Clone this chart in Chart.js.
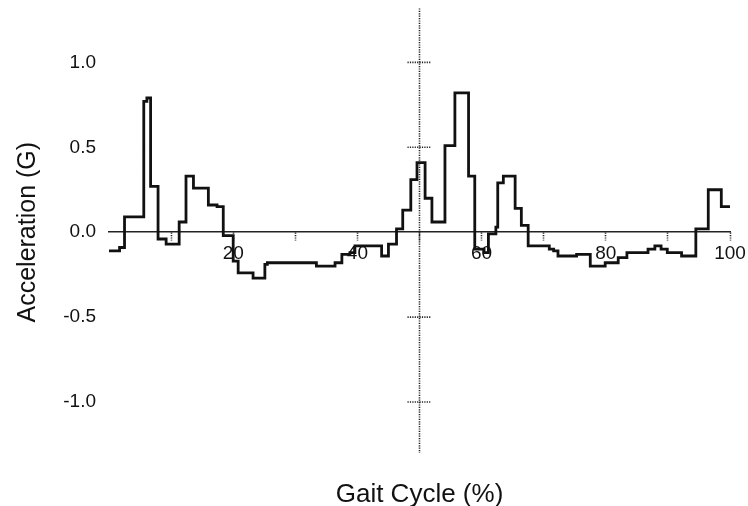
<!DOCTYPE html>
<html>
<head>
<meta charset="utf-8">
<title>Gait Cycle Acceleration</title>
<script src="https://cdn.jsdelivr.net/npm/chart.js@4.4.1/dist/chart.umd.min.js"></script>
<style>
    html, body { margin: 0; padding: 0; background: #fff; }
    #wrap { width: 748px; height: 506px; }
</style>
</head>
<body>
<div id="wrap"><canvas id="gaitChart"></canvas></div>
<script>
// Начало каждой ступеньки (% цикла) и значение ускорения на ней (G)
const gaitPct = [
    0, 1.7, 2.5, 5.6, 6.1, 6.7, 7.9, 9.2, 11.3, 12.4,
    13.6, 16.0, 17.4, 18.4, 20.0, 20.8, 23.2, 25.1, 25.5, 33.4,
    36.4, 37.5, 38.8, 39.6, 43.9, 45.0, 46.3, 47.3, 48.6, 49.6,
    50.9, 52.0, 54.1, 55.7, 57.9, 58.9, 60.4, 61.1, 62.3, 62.6,
    63.5, 65.4, 66.4, 67.5, 70.9, 71.6, 72.3, 75.3, 77.5, 79.9,
    82.0, 83.4, 86.8, 87.9, 88.9, 89.9, 92.2, 94.5, 96.5, 98.6,
    100
];
const accel = [
    -0.11, -0.09, 0.09, 0.77, 0.79, 0.27, -0.04, -0.07, 0.06, 0.33,
    0.26, 0.16, 0.15, -0.02, -0.17, -0.24, -0.27, -0.19, -0.18, -0.20,
    -0.18, -0.13, -0.12, -0.08, -0.14, -0.07, 0.02, 0.13, 0.31, 0.41,
    0.20, 0.06, 0.51, 0.82, 0.33, -0.10, -0.12, -0.01, 0.03, 0.29,
    0.33, 0.14, 0.04, -0.08, -0.10, -0.11, -0.14, -0.13, -0.20, -0.18,
    -0.15, -0.12, -0.10, -0.08, -0.10, -0.12, -0.14, 0.02, 0.25, 0.15,
    0.15
];

// Деления осей
const xTickValues = [10, 20, 30, 40, 50, 60, 70, 80, 90, 100];
const xTickLabels = [20, 40, 60, 80, 100];
const yTickValues = [-1.0, -0.5, 0.0, 0.5, 1.0];

const FONT = '"Liberation Sans", Arial, sans-serif';
const AXIS_COLOR = '#222';

/**
 * Вертикальная ось в точке 50% с поперечными делениями
 */
const centerAxisPlugin = {
    id: 'centerAxis',
    beforeDatasetsDraw: function (chart) {
        const ctx = chart.ctx;
        const xs = chart.scales.x;
        const ys = chart.scales.y;
        const area = chart.chartArea;
        const cx = xs.getPixelForValue(50);

        ctx.save();
        ctx.strokeStyle = AXIS_COLOR;
        ctx.lineWidth = 1.6;
        ctx.setLineDash([1.2, 1.2]);

        ctx.beginPath();
        ctx.moveTo(cx, area.top - 3);
        ctx.lineTo(cx, area.bottom);
        ctx.stroke();

        yTickValues.forEach(function (v) {
            if (v === 0) return;
            const py = ys.getPixelForValue(v);
            ctx.beginPath();
            ctx.moveTo(cx - 12, py);
            ctx.lineTo(cx + 12, py);
            ctx.stroke();
        });
        ctx.restore();
    }
};

const points = gaitPct.map(function (x, i) {
    return { x: x, y: accel[i] };
});

new Chart(document.getElementById('gaitChart'), {
    type: 'line',
    data: {
        datasets: [{
            label: 'Acceleration',
            data: points,
            stepped: true,
            borderColor: '#111',
            borderWidth: 2.8,
            pointRadius: 0,
            fill: false
        }]
    },
    options: {
        responsive: true,
        maintainAspectRatio: false,
        animation: false,
        layout: {
            padding: { top: 11, right: 18, bottom: 0, left: 0 }
        },
        plugins: {
            legend: { display: false },
            tooltip: { enabled: false },
            title: {
                display: true,
                position: 'bottom',
                fullSize: false,
                text: 'Gait Cycle (%)',
                color: '#111',
                font: { family: FONT, size: 26, weight: 'normal', lineHeight: 1.0 },
                padding: { top: 29, bottom: -2 }
            }
        },
        scales: {
            x: {
                type: 'linear',
                position: { y: 0 },
                min: 0,
                max: 100,
                afterBuildTicks: function (scale) {
                    scale.ticks = xTickValues.map(function (v) { return { value: v }; });
                },
                border: {
                    display: true,
                    color: AXIS_COLOR,
                    width: 1.6,
                    dash: [1.2, 1.2]
                },
                grid: {
                    display: true,
                    drawOnChartArea: false,
                    drawTicks: true,
                    tickLength: 8,
                    tickColor: AXIS_COLOR,
                    tickWidth: 1.6,
                    tickBorderDash: [1.2, 1.2]
                },
                ticks: {
                    autoSkip: false,
                    maxRotation: 0,
                    padding: 2,
                    color: '#111',
                    font: { family: FONT, size: 19 },
                    callback: function (value) {
                        return xTickLabels.indexOf(value) >= 0 ? String(value) : '';
                    }
                }
            },
            y: {
                type: 'linear',
                position: 'left',
                min: -1.3,
                max: 1.3,
                afterBuildTicks: function (scale) {
                    scale.ticks = yTickValues.map(function (v) { return { value: v }; });
                },
                afterFit: function (scale) {
                    scale.width = 109;
                },
                border: { display: false },
                // деления не рисуются, tickLength только отодвигает подписи
                grid: { display: false, drawTicks: true, tickLength: 13 },
                ticks: {
                    padding: 0,
                    color: '#111',
                    font: { family: FONT, size: 19 },
                    callback: function (value) {
                        return Number(value).toFixed(1);
                    }
                },
                title: {
                    display: true,
                    text: 'Acceleration (G)',
                    color: '#111',
                    font: { family: FONT, size: 25, weight: 'normal' },
                    padding: { top: 13, bottom: 0 }
                }
            }
        }
    },
    plugins: [centerAxisPlugin]
});
</script>
</body>
</html>
